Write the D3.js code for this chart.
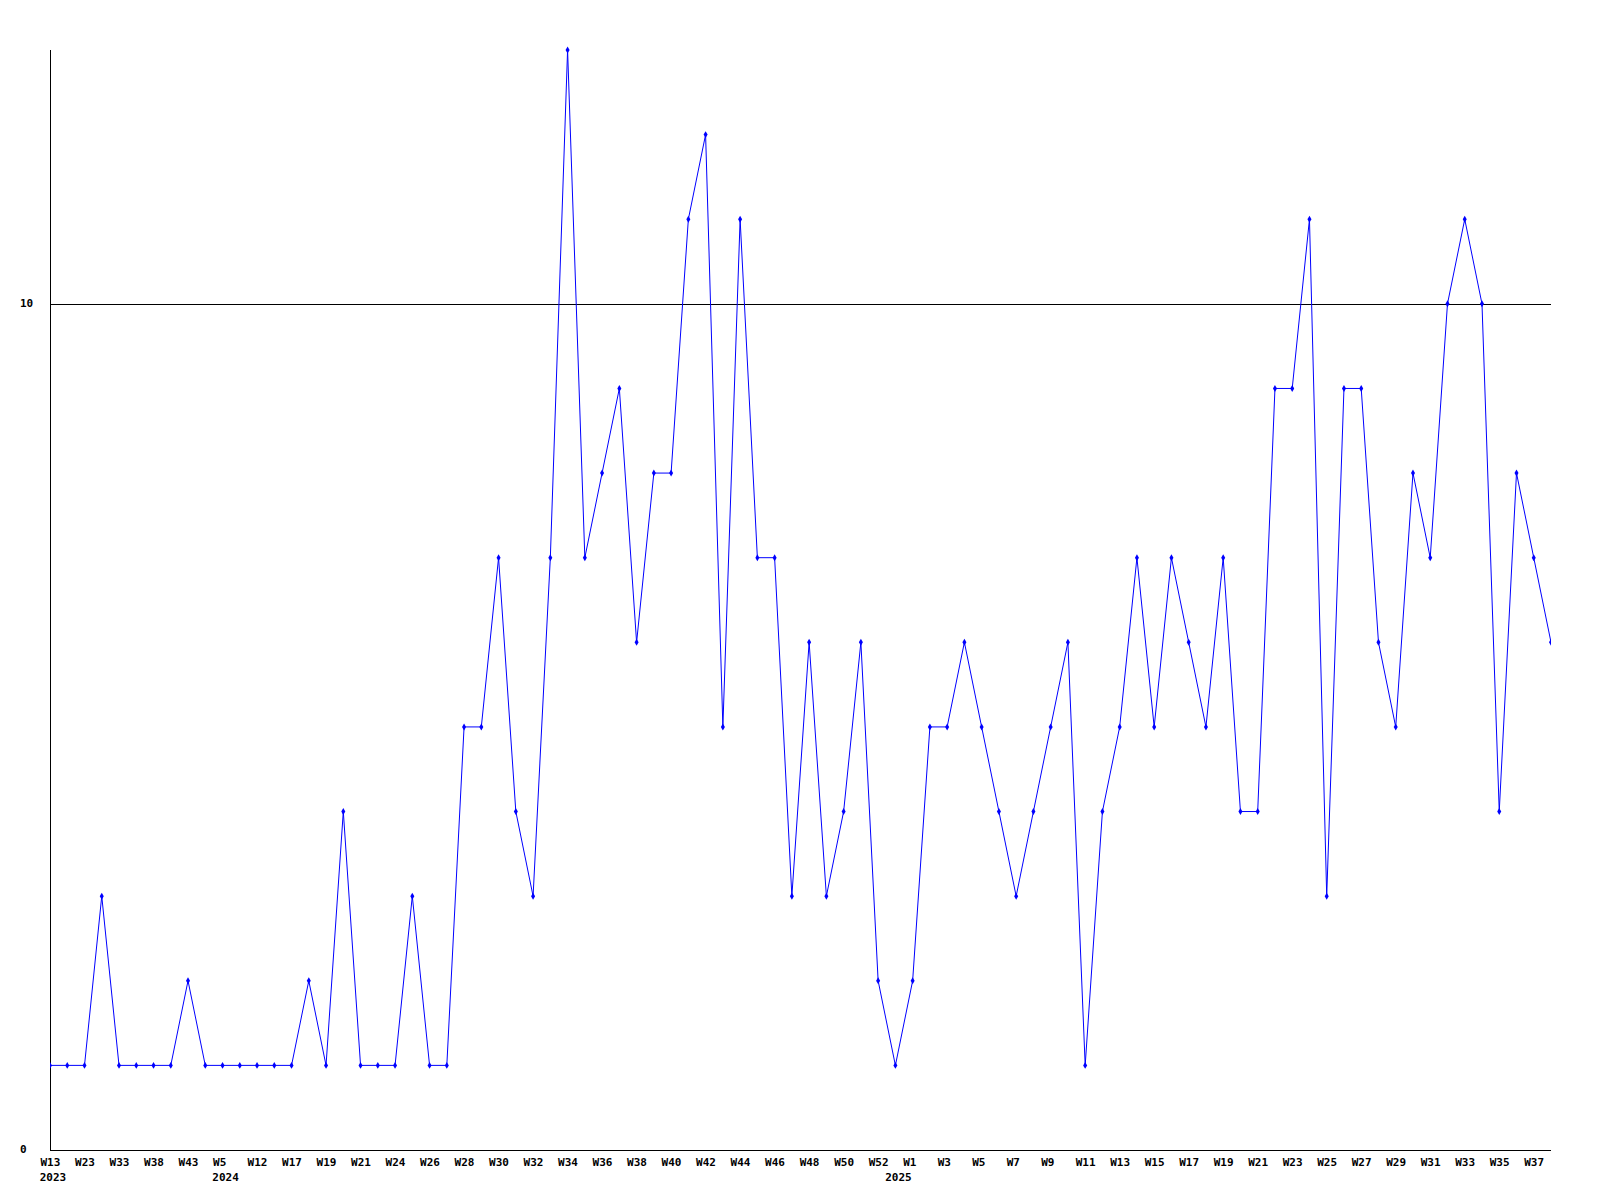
<!DOCTYPE html>
<html lang="en">
<head>
<meta charset="UTF-8">
<title>Weekly count</title>
<script src="https://cdn.jsdelivr.net/npm/d3@7"></script>
<style>
  body { margin: 0; background: #fff; }
  text { font-family: "DejaVu Sans Mono", monospace; font-weight: bold; font-size: 11px; fill: #000; }
</style>
</head>
<body>
<div id="chart"></div>
<script>
// one value per point
var values = [1, 1, 1, 3, 1, 1, 1, 1, 2, 1,
              1, 1, 1, 1, 1, 2, 1, 4, 1, 1,
              1, 3, 1, 1, 5, 5, 7, 4, 3, 7,
              13, 7, 8, 9, 6, 8, 8, 11, 12, 5,
              11, 7, 7, 3, 6, 3, 4, 6, 2, 1,
              2, 5, 5, 6, 5, 4, 3, 4, 5, 6,
              1, 4, 5, 7, 5, 7, 6, 5, 7, 4,
              4, 9, 9, 11, 3, 9, 9, 6, 5, 8,
              7, 10, 11, 10, 4, 8, 7, 6];

// labels, shown on every other point
var weekLabels = ["W13", "W23", "W33", "W38", "W43", "W5", "W12", "W17", "W19", "W21",
                  "W24", "W26", "W28", "W30", "W32", "W34", "W36", "W38", "W40", "W42",
                  "W44", "W46", "W48", "W50", "W52", "W1", "W3", "W5", "W7", "W9",
                  "W11", "W13", "W15", "W17", "W19", "W21", "W23", "W25", "W27", "W29",
                  "W31", "W33", "W35", "W37"];

// first point of each year
var yearPoints = [0, 10, 49];
var yearLabels = ["2023", "2024", "2025"];

var yTicks = [0, 10];

var width = 1600, height = 1200;
var plotLeft = 50, plotRight = 1551, plotTop = 50, plotBottom = 1150;

var svg = d3.select("#chart").append("svg")
    .attr("width", width)
    .attr("height", height);

var x = d3.scaleLinear().domain([0, values.length - 1]).range([plotLeft, plotRight]);
var y = d3.scaleLinear().domain([0, 13]).range([plotBottom, plotTop]);

// horizontal line at 10
svg.append("line")
    .attr("x1", plotLeft).attr("x2", plotRight)
    .attr("y1", Math.round(y(10)) + 0.5).attr("y2", Math.round(y(10)) + 0.5)
    .attr("stroke", "#000");

// axes
svg.append("line")
    .attr("x1", plotLeft + 0.5).attr("x2", plotLeft + 0.5)
    .attr("y1", plotTop).attr("y2", plotBottom + 1)
    .attr("stroke", "#000");
svg.append("line")
    .attr("x1", plotLeft).attr("x2", plotRight)
    .attr("y1", plotBottom + 0.5).attr("y2", plotBottom + 0.5)
    .attr("stroke", "#000");

// y labels, left aligned like the original
var yAxis = svg.append("g")
    .attr("transform", "translate(0,-1)")
    .call(d3.axisLeft(y).tickValues(yTicks).tickSize(0).tickPadding(0));
yAxis.select(".domain").remove();
yAxis.selectAll("text")
    .attr("fill", "#000")
    .attr("text-anchor", "start")
    .attr("x", 20);

// week labels on every other point
var xAxis = svg.append("g")
    .attr("transform", "translate(0," + plotBottom + ")")
    .call(d3.axisBottom(x)
        .tickValues(d3.range(0, values.length - 1, 2))
        .tickFormat(function(d, i) { return weekLabels[i]; })
        .tickSize(0).tickPadding(8));
xAxis.select(".domain").remove();
xAxis.selectAll("text")
    .attr("fill", "#000")
    .attr("text-anchor", "start")
    .attr("x", -10);

svg.append("g")
    .selectAll("text")
    .data(yearPoints)
    .enter().append("text")
    .attr("x", function(d) { return x(d) + 3; })
    .attr("y", plotBottom + 31)
    .attr("text-anchor", "middle")
    .text(function(d, i) { return yearLabels[i]; });

// series
svg.append("clipPath").attr("id", "plot")
    .append("rect")
    .attr("x", plotLeft).attr("y", 0)
    .attr("width", plotRight - plotLeft).attr("height", plotBottom);

var g = svg.append("g").attr("clip-path", "url(#plot)");

var line = d3.line()
    .x(function(d, i) { return x(i); })
    .y(function(d) { return y(d); });

g.append("path")
    .datum(values)
    .attr("d", line)
    .attr("fill", "none")
    .attr("stroke", "#0000ff")
    .attr("stroke-width", 1);

g.selectAll("path.dot")
    .data(values)
    .enter().append("path")
    .attr("class", "dot")
    .attr("transform", function(d, i) { return "translate(" + x(i) + "," + y(d) + ")"; })
    .attr("d", d3.symbol().type(d3.symbolDiamond).size(14))
    .attr("fill", "#0000ff");
</script>
</body>
</html>
